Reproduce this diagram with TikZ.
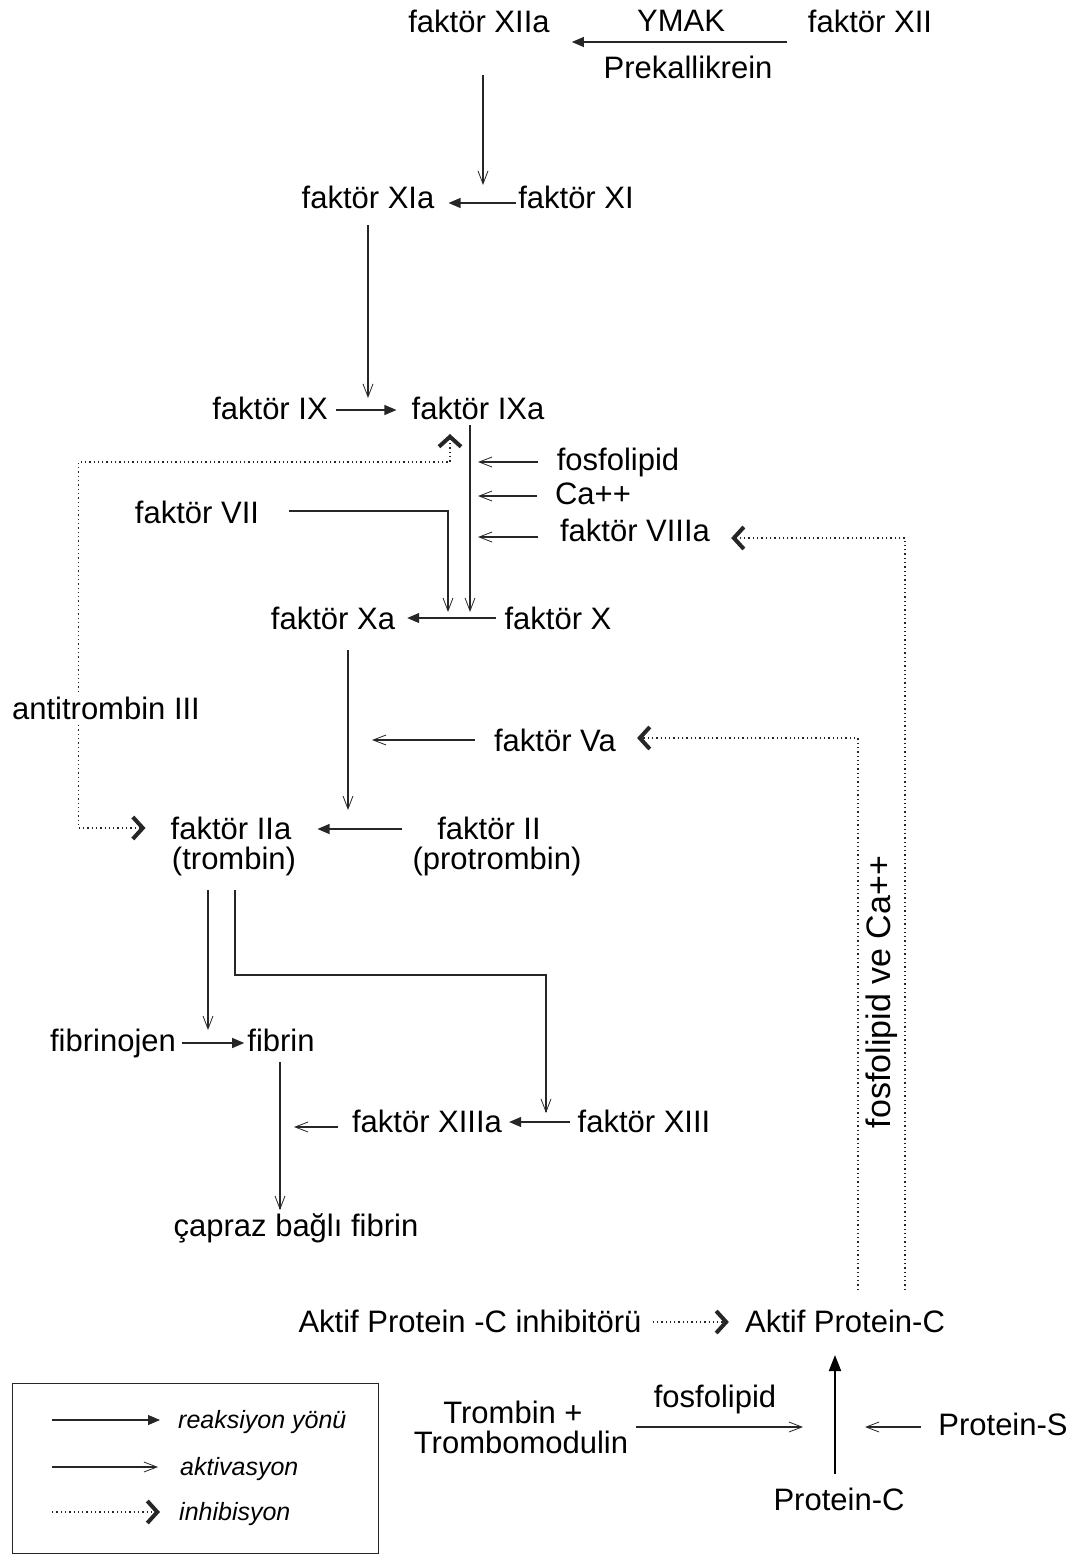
\documentclass[tikz,border=0pt]{standalone}
\usepackage{fontspec}
\setmainfont{Liberation Sans}
\usetikzlibrary{arrows.meta,calc}

\newcommand\mfont{\fontsize{31}{36}\selectfont}
\newcommand\lgfont{\fontsize{25}{30}\selectfont\itshape}

\tikzset{
  lbl/.style={inner sep=0pt, anchor=base, font=\mfont},
  lgtxt/.style={inner sep=0pt, anchor=base west, font=\lgfont},
  wire/.style={draw=black!85, line width=1.1pt},
  react/.style={wire, -{Triangle[length=12pt,width=10pt]}},
  actv/.style={wire, -{Straight Barb[length=13pt,width=10pt,line width=0.8pt]}},
  chev/.tip={Straight Barb[length=10pt,width=22pt,line width=4pt]},
  dotline/.style={draw=black!85, line width=1.3pt, dash pattern=on 1.3pt off 3pt},
  inhib/.style={dotline, -chev},
  inhibboth/.style={dotline, chev-chev},
  thick react/.style={draw=black, line width=2pt, -{Triangle[length=16pt,width=12pt]}},
}

\begin{document}
\begin{tikzpicture}[x=1pt,y=-1pt]
\useasboundingbox (0,0) rectangle (1084,1556);

% ---- factors ----
\node[lbl] (XIIa) at (479,32) {faktör XIIa};
\node[lbl] (YMAK) at (681,31) {YMAK};
\node[lbl] (XII)  at (870,32) {faktör XII};
\node[lbl] (PK)   at (688,78) {Prekallikrein};

\node[lbl] (XIa) at (368,208) {faktör XIa};
\node[lbl] (XI)  at (576,208) {faktör XI};

\node[lbl] (IX)  at (270,419) {faktör IX};
\node[lbl] (IXa) at (478,419) {faktör IXa};

\node[lbl] (fos1)  at (618,470) {fosfolipid};
\node[lbl] (Ca)    at (593,504) {Ca++};
\node[lbl] (VIIIa) at (635,541) {faktör VIIIa};
\node[lbl] (VII)   at (197,523) {faktör VII};

\node[lbl] (Xa) at (333,629) {faktör Xa};
\node[lbl] (X)  at (558,629) {faktör X};

\node[lbl] (Va)    at (555,751) {faktör Va};

\node[lbl] (IIa)  at (231,839) {faktör IIa};
\node[lbl] (trom) at (234,869) {(trombin)};
\node[lbl] (II)   at (489,839) {faktör II};
\node[lbl] (prot) at (497,869) {(protrombin)};

\node[lbl] (fbg) at (113,1051) {fibrinojen};
\node[lbl] (fbn) at (281,1051) {fibrin};

\node[lbl] (XIIIa) at (427,1132) {faktör XIIIa};
\node[lbl] (XIII)  at (644,1132) {faktör XIII};

\node[lbl] (cross) at (296,1236) {çapraz bağlı fibrin};

\node[lbl] (APCI) at (470,1332) {Aktif Protein -C inhibitörü};
\node[lbl] (APC)  at (845,1332) {Aktif Protein-C};

\node[lbl] (TR)   at (513,1423) {Trombin +};
\node[lbl] (TM)   at (521,1453) {Trombomodulin};
\node[lbl] (fos2) at (715,1407) {fosfolipid};
\node[lbl] (PS)   at (1003,1435) {Protein-S};
\node[lbl] (PC)   at (839,1510) {Protein-C};

\node[inner sep=0pt, rotate=90, font=\fontsize{34}{36}\selectfont] (fosCa) at (882,992) {fosfolipid ve Ca++};

% ---- junction points on the reaction lines ----
\coordinate (jXI)  at ($(XIIa.base)+(4,153)$);
\coordinate (jIX)  at ($(XIa.base)+(0,190)$);
\coordinate (jXa)  at ($(IXa.base)+(-8,193)$);
\coordinate (jVII) at ($(IXa.base)+(-30,193)$);
\coordinate (kVII) at ($(IXa.base)+(-30,92)$);
\coordinate (jIIa) at ($(Xa.base)+(15,181)$);
\coordinate (jVa)  at ($(Xa.base)+(39,111)$);
\coordinate (jfos) at ($(IXa.base)+(0,43)$);
\coordinate (jCa)  at ($(IXa.base)+(0,77)$);
\coordinate (jVIII) at ($(IXa.base)+(0,118)$);
\coordinate (jfbn) at ($(trom.base)+(-26,161)$);
\coordinate (kXIII1) at ($(trom.base)+(1,106)$);
\coordinate (kXIII2) at ($(XIIIa.base)+(119,-157)$);
\coordinate (jXIII) at ($(XIIIa.base)+(119,-19)$);
\coordinate (jcross) at ($(fbn.base)+(-1,159)$);
\coordinate (jXIIIa) at ($(fbn.base)+(13,76)$);
\coordinate (jPC) at ($(PC.base)+(-4,-83)$);

% ---- reactions ----
\draw[react] ($(XII.base west)+(-21,10)$) -- ($(XIIa.base east)+(22,10)$);
\draw[react] ($(XI.base west)+(-2,-5)$) -- ($(XIa.base east)+(14,-5)$);
\draw[react] ($(IX.base east)+(8,-9)$) -- ($(IXa.base west)+(-15,-9)$);
\draw[react] ($(X.base west)+(-8,-11)$) -- ($(Xa.base east)+(12,-11)$);
\draw[react] ($(II.base west)+(-35,-10)$) -- ($(IIa.base east)+(26,-10)$);
\draw[react] ($(fbg.base east)+(6,-8)$) -- ($(fbn.base west)+(-3,-8)$);
\draw[react] ($(XIII.base west)+(-7,-10)$) -- ($(XIIIa.base east)+(7,-10)$);
\draw[thick react] ($(PC.base)+(-4,-36)$) -- ($(APC.base)+(-10,23)$);

% ---- activations ----
\draw[actv] ($(XIIa.base)+(4,43)$) -- (jXI);
\draw[actv] ($(XIa.base)+(0,17)$) -- (jIX);
\draw[actv] ($(IXa.base)+(-8,6)$) -- (jXa);
\draw[actv] ($(VII.base east)+(30,-12)$) -- (kVII) -- (jVII);
\draw[actv] ($(fos1.base west)+(-19,-8)$) -- (jfos);
\draw[actv] ($(Ca.base west)+(-18,-8)$) -- (jCa);
\draw[actv] ($(VIIIa.base west)+(-22,-4)$) -- (jVIII);
\draw[actv] ($(Xa.base)+(15,21)$) -- (jIIa);
\draw[actv] ($(Va.base west)+(-19,-11)$) -- (jVa);
\draw[actv] ($(trom.base)+(-26,21)$) -- (jfbn);
\draw[actv] ($(trom.base)+(1,21)$) -- (kXIII1) -- (kXIII2) -- (jXIII);
\draw[actv] ($(fbn.base)+(-1,11)$) -- (jcross);
\draw[actv] ($(XIIIa.base west)+(-14,-5)$) -- (jXIIIa);
\draw[actv] ($(TM.base east)+(8,-26)$) -- ($(jPC)+(-32,0)$);
\draw[actv] ($(PS.base west)+(-17,-8)$) -- ($(jPC)+(30,0)$);

% ---- inhibitions ----
\draw[inhibboth] ($(IXa.base)+(-28,15)$) -- ($(IXa.base)+(-28,43)$)
  -- ($(IIa.base west)+(-92,-377)$) -- ($(IIa.base west)+(-92,-11)$)
  -- ($(IIa.base west)+(-25,-11)$);
\node[lbl, fill=white, inner ysep=3pt] (ATIII) at (106,719) {antitrombin III};
\draw[inhib] ($(APC.base)+(60,-42)$) -- ($(APC.base)+(60,-794)$) -- ($(VIIIa.base east)+(21,-3)$);
\draw[inhib] ($(APC.base)+(13,-42)$) -- ($(APC.base)+(13,-594)$) -- ($(Va.base east)+(21,-13)$);
\draw[inhib] ($(APCI.base east)+(11,-10)$) -- ($(APC.base west)+(-16,-10)$);

% ---- legend ----
\node[draw=black!85, line width=1pt, inner sep=0pt, minimum width=366pt, minimum height=170pt, anchor=north west] (legend) at (12,1383) {};
\node[lgtxt] (lg1) at (178,1428) {reaksiyon yönü};
\node[lgtxt] (lg2) at (180,1475) {aktivasyon};
\node[lgtxt] (lg3) at (179,1520) {inhibisyon};
\draw[react] ($(lg1.base west)+(-126,-8)$) -- ($(lg1.base west)+(-18,-8)$);
\draw[actv]  ($(lg2.base west)+(-128,-8)$) -- ($(lg2.base west)+(-22,-8)$);
\draw[inhib] ($(lg3.base west)+(-127,-8)$) -- ($(lg3.base west)+(-19,-8)$);
\end{tikzpicture}
\end{document}
